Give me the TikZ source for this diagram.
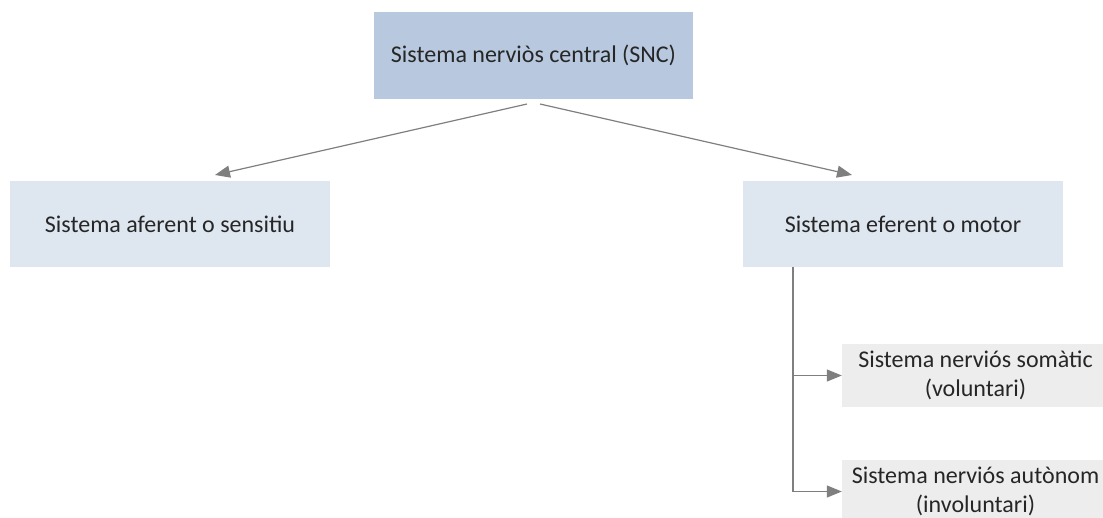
\documentclass[tikz,border=0pt]{standalone}
\usepackage{fontspec}
\setmainfont{Carlito}
\usetikzlibrary{arrows.meta}
\usetikzlibrary{positioning}
\definecolor{topfill}{HTML}{B8C8DE}
\definecolor{midfill}{HTML}{DEE6F0}
\definecolor{leaffill}{HTML}{EDEDED}
\definecolor{linegray}{HTML}{7F7F7F}
\definecolor{textgray}{HTML}{262626}

\begin{document}
\begin{tikzpicture}[x=1pt, y=-1pt]
	\tikzstyle{box}=[rectangle, inner sep=0pt, font=\fontsize{24}{29}\selectfont,
	                        text=textgray, align=center];
	\tikzstyle{link}=[draw=linegray, line width=1.2pt, -{Triangle[length=15pt, width=12pt]}];
	\useasboundingbox (0,0) rectangle (1103,517);
	% boxes
	\node[box, fill=topfill, minimum width=319pt, minimum height=87pt] (snc) at (533.5,55.5) {Sistema nerviòs central (SNC)};
	\node[box, fill=midfill, minimum width=320pt, minimum height=86pt] (aferent) at (170,224) {Sistema aferent o sensitiu};
	\node[box, fill=midfill, minimum width=320pt, minimum height=86pt] (eferent) at (903,224) {Sistema eferent o motor};
	\node[box, fill=leaffill, minimum width=267pt, minimum height=63pt] (somatic) at (975.5,375.5) {Sistema nerviós somàtic\\(voluntari)};
	\node[box, fill=leaffill, minimum width=267pt, minimum height=63pt] (autonom) at (975.5,491.5) {Sistema nerviós autònom\\(involuntari)};
	% free ends
	\coordinate (s1) at (527,104);
	\coordinate (s2) at (540,104);
	\coordinate (t1) at (215,175);
	\coordinate (t2) at (852,175);
	\coordinate (trunk) at (793,267);
	\draw[link] (s1) -- (t1);
	\draw[link] (s2) -- (t2);
	\draw[draw=linegray, line width=1.2pt] (trunk) |- (838,491.5);
	\draw[link] (trunk |- somatic) -- (somatic.west);
	\draw[link] (trunk |- autonom) -- (autonom.west);
\end{tikzpicture}
\end{document}
